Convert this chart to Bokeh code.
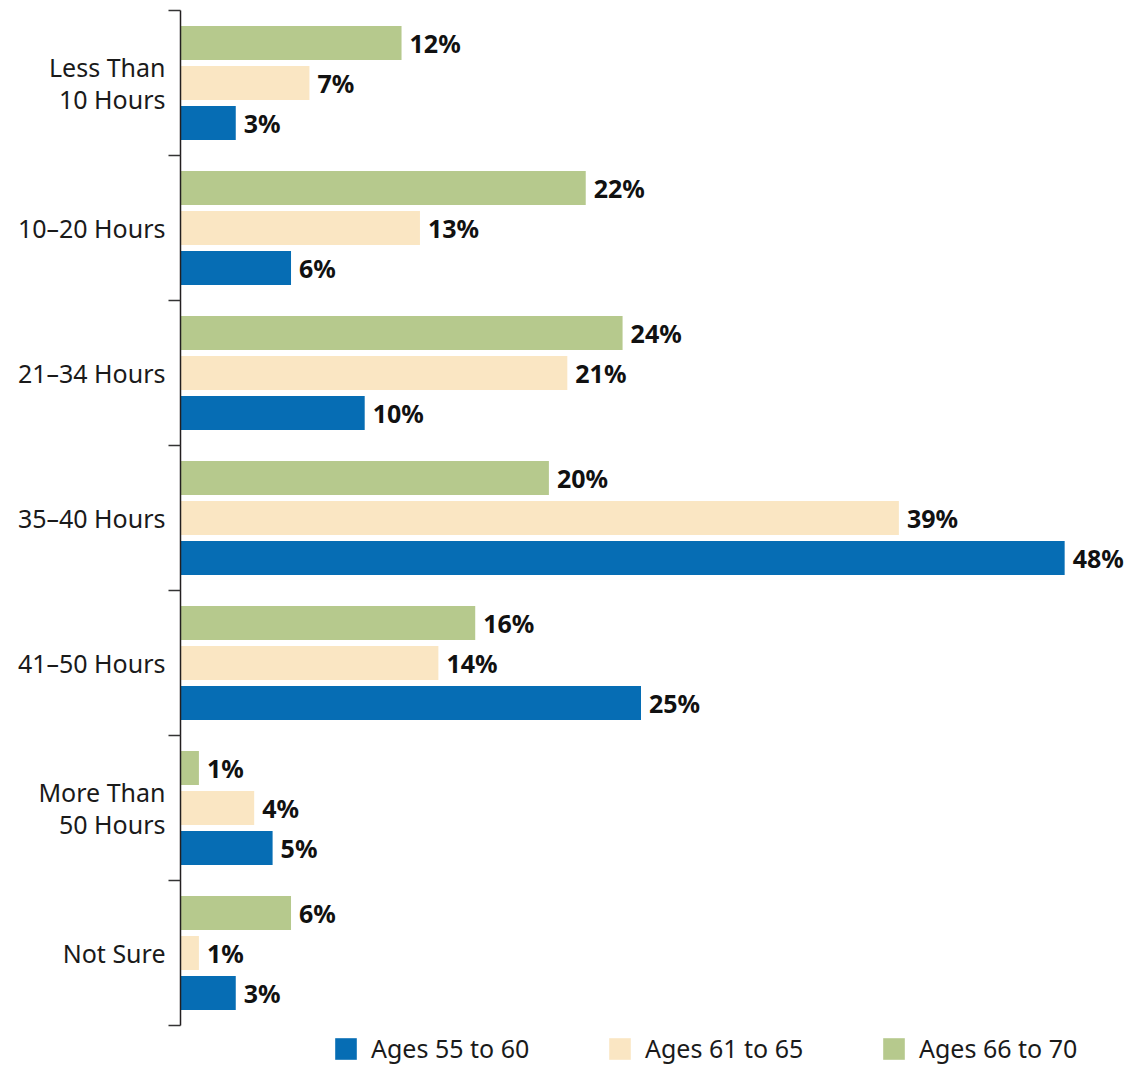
from bokeh.plotting import figure
from bokeh.models import Range1d, FixedTicker, ColumnDataSource, Legend, LegendItem
from bokeh.transform import dodge
from bokeh.core.properties import value
from bokeh.embed import file_html
from bokeh.resources import INLINE

categories = ["Less Than\n10 Hours", "10–20 Hours", "21–34 Hours", "35–40 Hours",
              "41–50 Hours", "More Than\n50 Hours", "Not Sure"]
ages_55_60 = [3, 6, 10, 48, 25, 5, 3]
ages_61_65 = [7, 13, 21, 39, 14, 4, 1]
ages_66_70 = [12, 22, 24, 20, 16, 1, 6]
series_names = ["Ages 55 to 60", "Ages 61 to 65", "Ages 66 to 70"]
colors = ["#066db4", "#fae6c3", "#b6c98d"]

idx = list(range(len(categories)))
src = ColumnDataSource(dict(
    y=idx,
    a55=ages_55_60, a61=ages_61_65, a66=ages_66_70,
    l55=[f"{v}%" for v in ages_55_60],
    l61=[f"{v}%" for v in ages_61_65],
    l66=[f"{v}%" for v in ages_66_70],
))

FONT = "Noto Sans"
W, H = 1125, 1065
LEFT, TOP = 180, 10
PX_X = 18.42          # pixels per percent
PX_Y = 145.0          # pixels per category
n = len(categories)
bottom_extra = (H - (TOP + n * PX_Y)) / PX_Y

p = figure(width=W, height=H, output_backend="svg", toolbar_location=None,
           x_range=Range1d(0, (W - LEFT) / PX_X),
           y_range=Range1d(n - 0.5 + bottom_extra, -0.5),
           x_axis_location=None,
           min_border_left=LEFT, min_border_top=TOP, min_border_right=0,
           min_border_bottom=0)
p.outline_line_color = None
p.xgrid.visible = False
p.ygrid.visible = False
p.background_fill_color = "white"

ax = p.yaxis[0]
ax.bounds = (-0.5, n - 0.5)
ax.ticker = FixedTicker(ticks=idx, minor_ticks=[i - 0.5 for i in range(n + 1)])
ax.major_label_overrides = {i: c for i, c in enumerate(categories)}
ax.major_tick_line_color = None
ax.major_tick_in = 0
ax.major_tick_out = 0
ax.minor_tick_in = 0
ax.minor_tick_out = 12
ax.minor_tick_line_color = "#333333"
ax.minor_tick_line_width = 1.5
ax.axis_line_color = "#231f20"
ax.axis_line_width = 1.5
ax.major_label_standoff = 3
ax.major_label_text_font = FONT
ax.major_label_text_font_size = "25px"
ax.major_label_text_line_height = 0.93
ax.major_label_text_color = "#1a1a1a"

off = 0.276
hh = 0.234
r55 = p.hbar(y=dodge("y", off), right="a55", left=0, height=hh, source=src,
             fill_color=colors[0], line_color=None)
r61 = p.hbar(y=dodge("y", 0), right="a61", left=0, height=hh, source=src,
             fill_color=colors[1], line_color=None)
r66 = p.hbar(y=dodge("y", -off), right="a66", left=0, height=hh, source=src,
             fill_color=colors[2], line_color=None)

for col, lab, o in (("a55", "l55", off), ("a61", "l61", 0), ("a66", "l66", -off)):
    p.text(x=col, y=dodge("y", o), text=lab, source=src, x_offset=8,
           text_baseline="middle", text_align="left",
           text_font=value(FONT), text_font_style="bold",
           text_font_size="25px", text_color="#111111")

legend = Legend(items=[LegendItem(label=series_names[0], renderers=[r55]),
                       LegendItem(label=series_names[1], renderers=[r61]),
                       LegendItem(label=series_names[2], renderers=[r66])],
                orientation="horizontal", location=(152, 0),
                glyph_width=27, glyph_height=27, label_standoff=12, spacing=69,
                label_width=166,
                label_text_font=FONT, label_text_font_size="25px",
                label_text_color="#1a1a1a", border_line_color=None,
                background_fill_alpha=0, padding=0, margin=0)
p.add_layout(legend, "center")

open("out.html", "w").write(file_html(p, INLINE))
